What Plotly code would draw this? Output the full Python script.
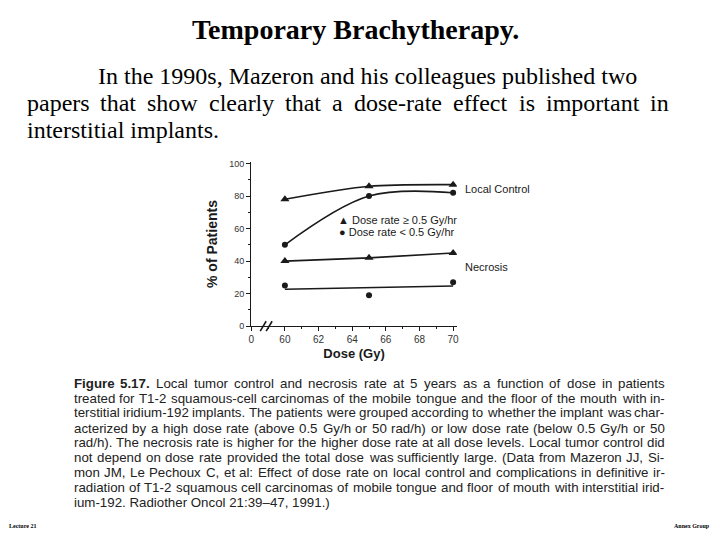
import numpy as np
import plotly.graph_objects as go

# ---------------- data ----------------
dose = [60, 65, 70]
lc_high = [78, 86, 87]      # local control, dose rate >= 0.5 Gy/hr (triangles)
lc_low = [50, 80, 82]       # local control, dose rate < 0.5 Gy/hr (circles)
nec_high = [40, 42, 45]     # necrosis, high dose rate
nec_low = [25, 19, 27]      # necrosis, low dose rate

x_tickvals = [58, 60, 62, 64, 66, 68, 70]
x_ticktext = ["0", "60", "62", "64", "66", "68", "70"]
y_tickvals = [0, 20, 40, 60, 80, 100]

title_text = "Temporary Brachytherapy."
para_lines = [
    "In the 1990s, Mazeron and his colleagues published two",
    "papers that show clearly that a dose-rate effect is important in",
    "interstitial implants.",
]
caption_bold = "Figure 5.17."
caption_lines = [
    "Figure 5.17. Local tumor control and necrosis rate at 5 years as a function of dose in patients",
    "treated for T1-2 squamous-cell carcinomas of the mobile tongue and the floor of the mouth with in-",
    "terstitial iridium-192 implants. The patients were grouped according to whether the implant was char-",
    "acterized by a high dose rate (above 0.5 Gy/h or 50 rad/h) or low dose rate (below 0.5 Gy/h or 50",
    "rad/h). The necrosis rate is higher for the higher dose rate at all dose levels. Local tumor control did",
    "not depend on dose rate provided the total dose was sufficiently large. (Data from Mazeron JJ, Si-",
    "mon JM, Le Pechoux C, et al: Effect of dose rate on local control and complications in definitive ir-",
    "radiation of T1-2 squamous cell carcinomas of mobile tongue and floor of mouth with interstitial irid-",
    "ium-192. Radiother Oncol 21:39\u201347, 1991.)",
]
footer_left = "Lecture 21"
footer_right = "Annex Group"

W, H = 720, 540


def px(x):
    return x / W


def py(y):
    return 1 - y / H


SANS = "Liberation Sans, Arial, sans-serif"
SERIF = "Liberation Serif, Times New Roman, serif"
INK = "#1a1a1a"

# approximate glyph advance widths (1/1000 em) for text justification
ARIAL = dict(zip(" !\"#$%&'()*+,-./0123456789:;<=>?@",
                 [278, 278, 355, 556, 556, 889, 667, 191, 333, 333, 389, 584, 278, 333, 278, 278]
                 + [556] * 10 + [278, 278, 584, 584, 584, 556, 1015]))
ARIAL.update(dict(zip("ABCDEFGHIJKLMNOPQRSTUVWXYZ",
                      [667, 667, 722, 722, 667, 611, 778, 722, 278, 500, 667, 556, 833, 722, 778,
                       667, 778, 722, 667, 611, 722, 667, 944, 667, 667, 611])))
ARIAL.update(dict(zip("abcdefghijklmnopqrstuvwxyz",
                      [556, 556, 500, 556, 556, 278, 556, 556, 222, 222, 500, 222, 833, 556, 556,
                       556, 556, 333, 500, 278, 556, 500, 722, 500, 500, 500])))
ARIAL["\u2013"] = 556
ARIAL_BOLD = dict(ARIAL)
ARIAL_BOLD.update({"F": 611, "i": 278, "g": 611, "u": 611, "r": 389, "e": 556})
TIMES = dict(zip("abcdefghijklmnopqrstuvwxyz",
                 [444, 500, 444, 500, 444, 333, 500, 500, 278, 278, 500, 278, 778, 500, 500,
                  500, 500, 333, 389, 278, 500, 500, 722, 500, 500, 444]))
TIMES.update({" ": 250, "-": 333, ",": 250, ".": 250})


def width(s, table, size):
    return sum(table.get(c, 500) for c in s) * size / 1000.0


fig = go.Figure()

# local control, high dose rate
fig.add_trace(go.Scatter(x=dose, y=lc_high, mode="lines+markers",
                         line=dict(color=INK, width=1.6, shape="spline", smoothing=0.8),
                         marker=dict(symbol="triangle-up", size=8, color=INK),
                         showlegend=False))
# local control, low dose rate
fig.add_trace(go.Scatter(x=dose, y=lc_low, mode="lines+markers",
                         line=dict(color=INK, width=1.6, shape="spline", smoothing=1.0),
                         marker=dict(symbol="circle", size=6, color=INK),
                         showlegend=False))
# necrosis, high dose rate
fig.add_trace(go.Scatter(x=dose, y=nec_high, mode="lines+markers",
                         line=dict(color=INK, width=1.6),
                         marker=dict(symbol="triangle-up", size=8, color=INK),
                         showlegend=False))
# necrosis, low dose rate: points + least-squares line
coef = np.polyfit(dose, nec_low, 1)
fit_x = [dose[0], dose[-1]]
fit_y = list(np.polyval(coef, fit_x))
fig.add_trace(go.Scatter(x=fit_x, y=fit_y, mode="lines",
                         line=dict(color=INK, width=1.6), showlegend=False))
fig.add_trace(go.Scatter(x=dose, y=nec_low, mode="markers",
                         marker=dict(symbol="circle", size=6, color=INK),
                         showlegend=False))

fig.update_xaxes(domain=[px(250), px(457)], range=[58, 70.22],
                 tickvals=x_tickvals, ticktext=x_ticktext,
                 showline=True, linecolor=INK, linewidth=1.3,
                 ticks="outside", ticklen=4, tickcolor=INK,
                 minor=dict(dtick=1, tick0=60, ticks="outside", ticklen=2, tickcolor=INK),
                 showgrid=False, zeroline=False,
                 tickfont=dict(family=SANS, size=10, color="#333"),
                 title=dict(text="<b>Dose (Gy)</b>", font=dict(family=SANS, size=13, color=INK),
                            standoff=4))
fig.update_yaxes(domain=[py(328), py(161.3)], range=[0, 101],
                 tickvals=y_tickvals,
                 showline=True, linecolor=INK, linewidth=1.3,
                 ticks="outside", ticklen=4, tickcolor=INK,
                 minor=dict(dtick=10, ticks="outside", ticklen=2, tickcolor=INK),
                 showgrid=False, zeroline=False,
                 tickfont=dict(family=SANS, size=9, color="#333"),
                 title=dict(text="<b>% of Patients</b>", font=dict(family=SANS, size=14, color=INK),
                            standoff=8))

annotations = []


def add_text(x, y, text, font, xanchor="left"):
    annotations.append(dict(x=px(x), y=py(y), xref="paper", yref="paper", text=text,
                            showarrow=False, xanchor=xanchor, yanchor="middle", font=font))


def add_justified(line, x0, x1, y, font, table, bold_prefix=None):
    words = line.split(" ")
    size = font["size"]
    nbold = len(bold_prefix.split(" ")) if bold_prefix else 0
    wids = []
    for i, wd in enumerate(words):
        tbl = ARIAL_BOLD if i < nbold else table
        wids.append(width(wd, tbl, size))
    gap = (x1 - x0 - sum(wids)) / (len(words) - 1)
    cur = x0
    for i, (wd, w) in enumerate(zip(words, wids)):
        txt = f"<b>{wd}</b>" if i < nbold else wd
        add_text(cur - 3, y, txt, font)
        cur += w + gap


# title
add_text(355, 27, f"<b>{title_text}</b>", dict(family=SERIF, size=28, color="black"), "center")
# paragraph
pfont = dict(family=SERIF, size=24, color="black")
add_text(94, 74, para_lines[0], pfont)
add_justified(para_lines[1], 25, 671, 102, pfont, TIMES)
add_text(22, 129, para_lines[2], pfont)

# chart labels
cfont = dict(family=SANS, size=11, color=INK)
add_text(463, 189, "Local Control", cfont)
add_text(463, 268, "Necrosis", cfont)
add_text(335, 220, "\u25B2 Dose rate \u2265 0.5 Gy/hr", cfont)
add_text(336, 232, "\u25CF Dose rate < 0.5 Gy/hr", cfont)

# caption (justified lines, last line ragged)
capfont = dict(family=SANS, size=13.3, color="#222")
cap_y = [386, 401, 416, 432, 446, 461, 477, 492, 507]
for i, (line, ly) in enumerate(zip(caption_lines, cap_y)):
    if i < len(caption_lines) - 1:
        add_justified(line, 72, 667, ly, capfont, ARIAL,
                      bold_prefix=caption_bold if i == 0 else None)
    else:
        add_text(69, ly, line, capfont)

# footers
ffont = dict(family=SERIF, size=6, color="black")
add_text(4, 531, f"<b>{footer_left}</b>", ffont)
add_text(714, 531, f"<b>{footer_right}</b>", ffont, "right")

# axis break marks
shapes = []
for bx in (259, 265):
    shapes.append(dict(type="line", xref="paper", yref="paper",
                       x0=px(bx), y0=py(333), x1=px(bx + 6), y1=py(323),
                       line=dict(color=INK, width=1.6)))

fig.update_layout(width=W, height=H, margin=dict(l=0, r=0, t=0, b=0),
                  paper_bgcolor="white", plot_bgcolor="white",
                  annotations=annotations, shapes=shapes, showlegend=False)

fig.write_html("out.html", config={"displayModeBar": False},
               post_script="document.body.style.margin='0';document.body.style.overflow='hidden';")
